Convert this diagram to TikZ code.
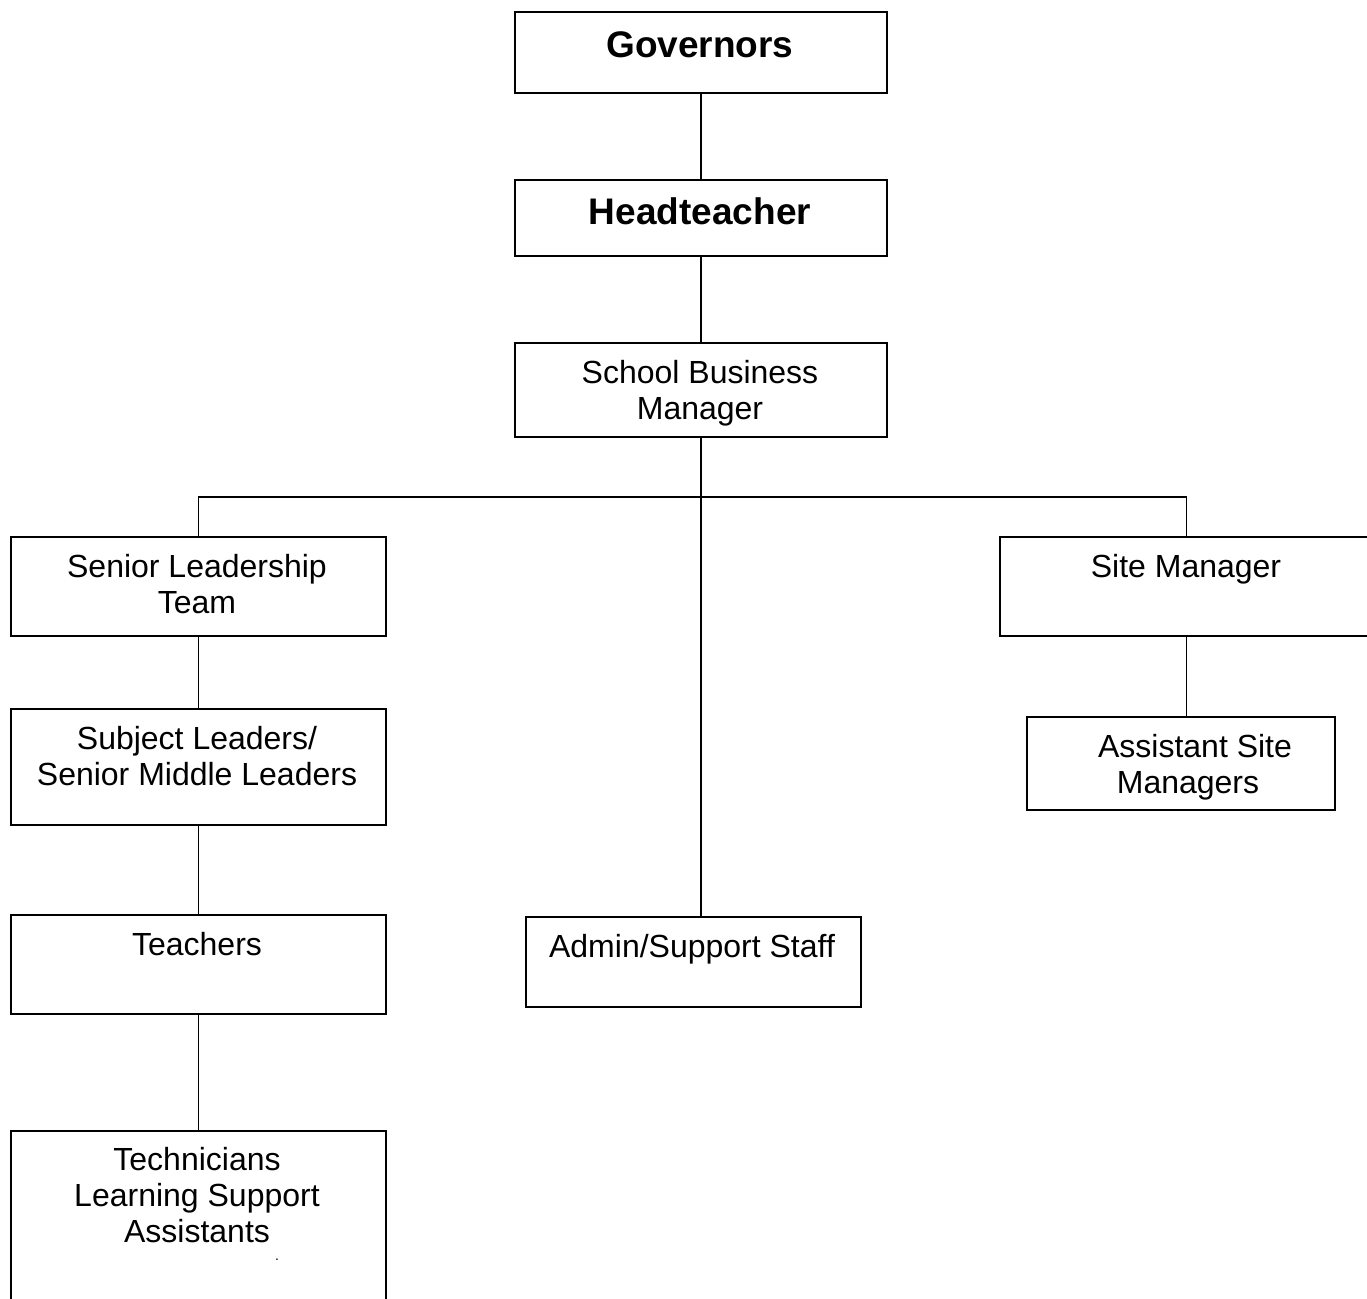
\documentclass[tikz,border=0pt]{standalone}
\usepackage{fontspec}
\setmainfont{Liberation Sans}
\begin{document}
\begin{tikzpicture}[x=1pt,y=-1pt,
  box/.style={draw, line width=1.8pt, inner sep=0pt, anchor=north west},
  txt/.style={inner sep=0pt, align=center, anchor=base, font=\fontsize{32}{36}\selectfont},
  btxt/.style={inner sep=0pt, align=center, anchor=base, font=\fontsize{37}{41}\selectfont\bfseries},
  conn/.style={line width=1.8pt}]
\useasboundingbox (0,0) rectangle (1367,1298);
\clip (0,0) rectangle (1367,1298);
\fill[white] (0,0) rectangle (1367,1298);
% boxes
\node[box, minimum width=372pt, minimum height=81pt] (gov) at (514,11) {};
\node[box, minimum width=372pt, minimum height=76pt] (head) at (514,179) {};
\node[box, minimum width=372pt, minimum height=94pt] (sbm) at (514,342) {};
\node[box, minimum width=375pt, minimum height=99pt] (slt) at (10,536) {};
\node[box, minimum width=375pt, minimum height=116pt] (subj) at (10,708) {};
\node[box, minimum width=375pt, minimum height=99pt] (teach) at (10,914) {};
\node[box, minimum width=375pt, minimum height=190pt] (tech) at (10,1130) {};
\node[box, minimum width=335pt, minimum height=90pt] (adm) at (525,916) {};
\node[box, minimum width=373pt, minimum height=99pt] (site) at (999,536) {};
\node[box, minimum width=308pt, minimum height=93pt] (asm) at (1026,716) {};
% texts (multi-line nodes: base = last line's baseline)
\node[btxt] (govt) at (700,57) {Governors};
\node[btxt] (headt) at (700,224) {Headteacher};
\node[txt] (sbmt) at (700,419) {School Business\\Manager};
\node[txt] (sltt) at (197,613) {Senior Leadership\\Team};
\node[txt] (subjt) at (197,785) {Subject Leaders/\\Senior Middle Leaders};
\node[txt] (teacht) at (197,955) {Teachers};
\node[txt] (techt) at (197,1242) {Technicians\\Learning Support\\Assistants};
\node[inner sep=0pt, anchor=base, font=\fontsize{14}{16}\selectfont] (dot) at (277,1260) {.};
\node[txt] (admt) at (692,957) {Admin/Support Staff};
\node[txt] (sitet) at (1186,577) {Site Manager};
\node[txt] (asmt) at (1188,793) {\hspace*{14pt}Assistant Site\\Managers};
% connectors
\coordinate (busy) at (0,497);
\coordinate (busL) at (slt.north |- busy);
\coordinate (busR) at (site.north |- busy);
\draw[conn] (gov.south) -- (head.north);
\draw[conn] (head.south) -- (sbm.north);
\draw[conn] (sbm.south) -- (sbm.south |- adm.north);
\draw[line width=2.6pt] ([yshift=-13pt]sbm.south) -- (sbm.south |- busy);
\draw[conn] (slt.north) -- (busL) -- (busR) -- (site.north);
\draw[conn] (slt.south) -- (subj.north);
\draw[conn] (subj.south) -- (teach.north);
\draw[conn] (teach.south) -- (tech.north);
\draw[conn] (site.south) -- (site.south |- asm.north);
\end{tikzpicture}
\end{document}
